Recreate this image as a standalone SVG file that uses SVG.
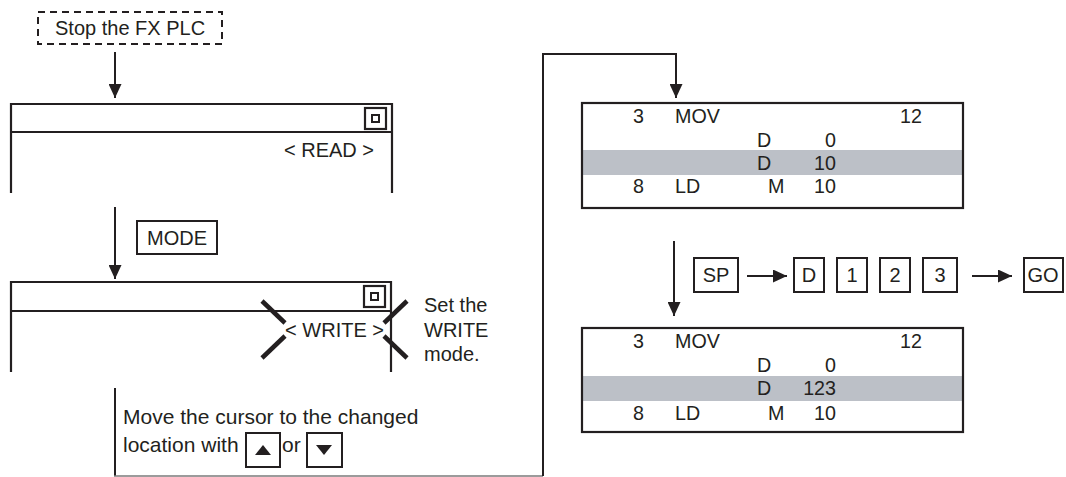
<svg xmlns="http://www.w3.org/2000/svg" width="1066" height="477" viewBox="0 0 1066 477">
<style>
  text { font-family: "Liberation Sans", Arial, sans-serif; fill: #231f20; }
  .t20 { font-size: 20px; }
  .t21 { font-size: 21px; }
  .tb { font-size: 19.7px; }
  .frame { fill: none; stroke: #231f20; stroke-width: 2.2; }
  .key { fill: #fff; stroke: #231f20; stroke-width: 2; }
  .line { fill: none; stroke: #231f20; stroke-width: 2; }
  .cross { stroke: #231f20; stroke-width: 4.5; }
  .band { fill: #bcc0c7; }
</style>
<defs>
  <marker id="ahBig" viewBox="0 0 10 10" refX="10" refY="5" markerWidth="14" markerHeight="13" markerUnits="userSpaceOnUse" orient="auto" preserveAspectRatio="none">
    <path d="M0,0 L10,5 L0,10 z" fill="#231f20"/>
  </marker>
</defs>

<g id="connectors">
  <line class="line" x1="115" y1="52" x2="115" y2="98" marker-end="url(#ahBig)"/>
  <line class="line" x1="115" y1="207" x2="115" y2="279" marker-end="url(#ahBig)"/>
  <polyline class="line" points="115,388 115,476"/>
  <line x1="114" y1="476" x2="543" y2="476" stroke="#7a7a7a" stroke-width="1.6"/>
  <polyline class="line" points="543,476 543,54 676,54 676,98" marker-end="url(#ahBig)"/>
  <line class="line" x1="674" y1="241" x2="674" y2="316" marker-end="url(#ahBig)"/>
  <line class="line" x1="747" y1="276" x2="787" y2="276" marker-end="url(#ahBig)"/>
  <line class="line" x1="972" y1="276" x2="1012" y2="276" marker-end="url(#ahBig)"/>
</g>

<g id="stop">
  <rect x="38" y="12" width="184" height="32" fill="none" stroke="#231f20" stroke-width="2" stroke-dasharray="7,5"/>
  <text class="t20" x="55" y="35">Stop the FX PLC</text>
</g>

<g id="panel-read">
  <path class="frame" d="M11,193 V104 H392 V193"/>
  <line class="frame" x1="11" y1="132" x2="392" y2="132"/>
  <rect x="365" y="108" width="21" height="21" fill="none" stroke="#231f20" stroke-width="2.2"/>
  <rect x="372" y="115" width="7" height="7" fill="none" stroke="#231f20" stroke-width="2"/>
  <text class="t20" x="374" y="157" text-anchor="end">&lt; READ &gt;</text>
</g>

<g id="key-mode">
  <rect class="key" x="137" y="221" width="80" height="33"/>
  <text class="t20" x="177" y="245" text-anchor="middle">MODE</text>
</g>

<g id="panel-write">
  <path class="frame" d="M11,372 V282 H391 V372"/>
  <line class="frame" x1="11" y1="311" x2="391" y2="311"/>
  <rect x="364" y="286" width="21" height="21" fill="none" stroke="#231f20" stroke-width="2.2"/>
  <rect x="371" y="293" width="7" height="7" fill="none" stroke="#231f20" stroke-width="2"/>
  <text class="t20" x="384" y="337" text-anchor="end">&lt; WRITE &gt;</text>
  <line class="cross" x1="262" y1="301" x2="285" y2="323"/>
  <line class="cross" x1="262" y1="358" x2="285" y2="336"/>
  <line class="cross" x1="384" y1="323" x2="407" y2="301"/>
  <line class="cross" x1="384" y1="336" x2="407" y2="358"/>
</g>

<g id="note-write">
  <text class="t20" x="424" y="312">Set the</text>
  <text class="t20" x="424" y="337">WRITE</text>
  <text class="t20" x="424" y="361">mode.</text>
</g>

<g id="note-cursor">
  <text class="t21" x="123" y="424">Move the cursor to the changed</text>
  <text class="t21" x="123" y="452">location with</text>
  <rect class="key" x="246" y="433" width="34" height="34"/>
  <path d="M255,455 L263,445 L271,455 Z" fill="#231f20"/>
  <text class="t21" x="282" y="452">or</text>
  <rect class="key" x="307" y="433" width="35" height="34"/>
  <path d="M316,445 L324,455 L332,445 Z" fill="#231f20"/>
</g>

<g id="panel-before">
  <rect x="582" y="103" width="381" height="105" fill="#fff"/>
  <rect class="band" x="583" y="150" width="379" height="25"/>
  <rect class="frame" x="582" y="103" width="381" height="105"/>
  <text class="tb" x="633" y="123">3</text>
  <text class="tb" x="675" y="123">MOV</text>
  <text class="tb" x="922" y="123" text-anchor="end">12</text>
  <text class="tb" x="757" y="147">D</text>
  <text class="tb" x="836" y="147" text-anchor="end">0</text>
  <text class="tb" x="757" y="170">D</text>
  <text class="tb" x="836" y="170" text-anchor="end">10</text>
  <text class="tb" x="633" y="193">8</text>
  <text class="tb" x="675" y="193">LD</text>
  <text class="tb" x="768" y="193">M</text>
  <text class="tb" x="836" y="193" text-anchor="end">10</text>
</g>

<g id="keys-entry">
  <rect class="key" x="694" y="258" width="44" height="34"/>
  <text class="t20" x="716" y="282" text-anchor="middle">SP</text>
  <rect class="key" x="794" y="258" width="30" height="34"/>
  <text class="t20" x="809" y="282" text-anchor="middle">D</text>
  <rect class="key" x="837" y="258" width="30" height="34"/>
  <text class="t20" x="852" y="282" text-anchor="middle">1</text>
  <rect class="key" x="880" y="258" width="30" height="34"/>
  <text class="t20" x="895" y="282" text-anchor="middle">2</text>
  <rect class="key" x="923" y="258" width="34" height="34"/>
  <text class="t20" x="940" y="282" text-anchor="middle">3</text>
  <rect class="key" x="1024" y="258" width="39" height="34"/>
  <text class="t20" x="1043" y="282" text-anchor="middle">GO</text>
</g>

<g id="panel-after">
  <rect x="582" y="328" width="381" height="104" fill="#fff"/>
  <rect class="band" x="583" y="376" width="379" height="25"/>
  <rect class="frame" x="582" y="328" width="381" height="104"/>
  <text class="tb" x="633" y="348">3</text>
  <text class="tb" x="675" y="348">MOV</text>
  <text class="tb" x="922" y="348" text-anchor="end">12</text>
  <text class="tb" x="757" y="372">D</text>
  <text class="tb" x="836" y="372" text-anchor="end">0</text>
  <text class="tb" x="757" y="395">D</text>
  <text class="tb" x="836" y="395" text-anchor="end">123</text>
  <text class="tb" x="633" y="420">8</text>
  <text class="tb" x="675" y="420">LD</text>
  <text class="tb" x="768" y="420">M</text>
  <text class="tb" x="836" y="420" text-anchor="end">10</text>
</g>
</svg>
